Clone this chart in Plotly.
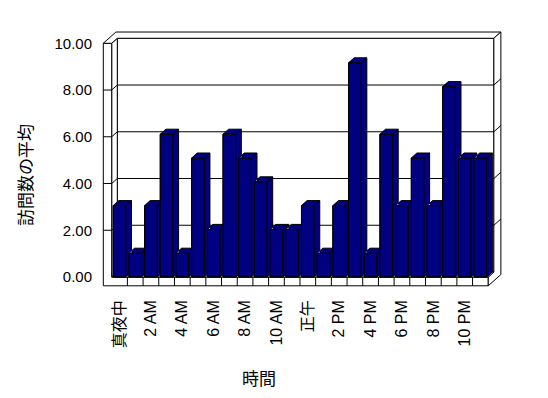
import plotly.graph_objects as go

# ---------------- data ----------------
HOURS = list(range(24))
AVG_VISITS = [3, 1, 3, 6, 1, 5, 2, 6, 5, 4, 2, 2, 3, 1, 3, 9, 1, 6, 3, 5, 3, 8, 5, 5]
TICK_HOURS = [0, 2, 4, 6, 8, 10, 12, 14, 16, 18, 20, 22]
TICK_LABELS = ["真夜中", "2 AM", "4 AM", "6 AM", "8 AM", "10 AM", "正午",
               "2 PM", "4 PM", "6 PM", "8 PM", "10 PM"]
Y_TICKS = [0, 2, 4, 6, 8, 10]
X_TITLE = "時間"
Y_TITLE = "訪問数の平均"

# ---------------- geometry (pixels -> data units) ----------------
OFF = 8                                 # default page body margin
W, H = 548 - OFF, 398 - OFF
L, R, T, B = 96 - OFF, 512 - OFF, 22 - OFF, 296 - OFF   # plot area in pixels
PX0, SX = 111.7 - OFF, 15.69            # px of category -0.5 ; px per category
PY0, SY = 277.0 - OFF, 23.8             # px of value 0 ; px per value
N = len(HOURS)

DX, DY = 5.6 / SX, 5.0 / SY             # depth vector (one depth unit)
LT = 8.4 / SX                           # left wall thickness
FT = 8.8 / SY                           # floor thickness
TB = 1.25                               # back wall thickness (depth units)
WALL_K = 0.982                          # wall value scale vs bar scale
WT = 10 * WALL_K                        # wall top
BW = 12.7 / SX                          # bar front width
X0, X1 = -0.5, N - 0.5

NAVY = "#000080"
FONT = "Liberation Sans, Arial, Noto Sans CJK JP, sans-serif"
CJK = "Noto Sans CJK JP, sans-serif"

xr0 = X0 + (L - PX0) / SX
xr1 = X0 + (R - PX0) / SX
yr0 = (PY0 - B) / SY
yr1 = (PY0 - T) / SY


def path(pts, close=True):
    s = "M " + " L ".join(f"{x},{y}" for x, y in pts)
    return s + (" Z" if close else "")


shapes = []


def poly_shape(pts, fill="white"):
    shapes.append(dict(type="path", path=path(pts), xref="x", yref="y",
                       fillcolor=fill, line=dict(color="black", width=1),
                       layer="below"))


def line_shape(p, q):
    shapes.append(dict(type="line", x0=p[0], y0=p[1], x1=q[0], y1=q[1],
                       xref="x", yref="y", line=dict(color="black", width=1),
                       layer="below"))


D2X, D2Y = (1 + TB) * DX, (1 + TB) * DY
# back wall inner face
poly_shape([(X0 + DX, DY), (X1 + DX, DY), (X1 + DX, WT + DY), (X0 + DX, WT + DY)])
# left wall inner face
poly_shape([(X0, 0), (X0 + DX, DY), (X0 + DX, WT + DY), (X0, WT)])
# left wall front face + floor front face
poly_shape([(X0 - LT, -FT), (X1, -FT), (X1, 0), (X0, 0), (X0, WT), (X0 - LT, WT)])
# top faces of the walls
poly_shape([(X0 - LT, WT), (X0, WT), (X0 + DX, WT + DY), (X1 + DX, WT + DY),
            (X1 + D2X, WT + D2Y), (X0 - LT + D2X, WT + D2Y)])
# right side faces (floor + back wall)
poly_shape([(X1, 0), (X1, -FT), (X1 + D2X, -FT + D2Y), (X1 + D2X, WT + D2Y),
            (X1 + DX, WT + DY), (X1 + DX, DY)])
# floor top face
poly_shape([(X0, 0), (X1, 0), (X1 + DX, DY), (X0 + DX, DY)])
# floor dividers
for k in range(1, N):
    line_shape((X0 + k, -FT), (X0 + k, 0))
# gridlines
for v in Y_TICKS[1:-1]:
    y = v * WALL_K
    line_shape((X0 - LT, y), (X0, y))
    line_shape((X0, y), (X0 + DX, y + DY))
    line_shape((X0 + DX, y + DY), (X1 + DX, y + DY))
    line_shape((X1 + DX, y + DY), (X1 + D2X, y + D2Y))


# ---------------- 3D bar faces ----------------
def silhouette(i, v):
    xl, xr = i - BW / 2, i + BW / 2
    return [(xl, 0), (xr, 0), (xr + DX, DY), (xr + DX, v + DY),
            (xl + DX, v + DY), (xl, v)]


def inside_interval(p0, p1, poly):
    area = 0
    for k in range(len(poly)):
        a, b = poly[k], poly[(k + 1) % len(poly)]
        area += a[0] * b[1] - b[0] * a[1]
    s = 1 if area > 0 else -1
    t0, t1 = 0.0, 1.0
    d = (p1[0] - p0[0], p1[1] - p0[1])
    eps = 1e-9
    for k in range(len(poly)):
        a, b = poly[k], poly[(k + 1) % len(poly)]
        e = (b[0] - a[0], b[1] - a[1])
        num = s * (e[0] * (p0[1] - a[1]) - e[1] * (p0[0] - a[0]))
        den = s * (e[0] * d[1] - e[1] * d[0])
        if abs(den) < 1e-12:
            if num <= eps:
                return None
            continue
        t = (eps - num) / den
        if den > 0:
            t0 = max(t0, t)
        else:
            t1 = min(t1, t)
    if t0 >= t1:
        return None
    return t0, t1


def visible_parts(p0, p1, occ):
    if occ is None:
        return [(p0, p1)]
    iv = inside_interval(p0, p1, occ)
    if iv is None:
        return [(p0, p1)]
    lerp = lambda t: (p0[0] + t * (p1[0] - p0[0]), p0[1] + t * (p1[1] - p0[1]))
    out = []
    if iv[0] > 1e-6:
        out.append((p0, lerp(iv[0])))
    if iv[1] < 1 - 1e-6:
        out.append((lerp(iv[1]), p1))
    return out


fx, fy = [], []      # side + top faces
ex, ey = [], []      # outlines
for i, v in zip(HOURS, AVG_VISITS):
    xl, xr = i - BW / 2, i + BW / 2
    top = [(xl, v), (xr, v), (xr + DX, v + DY), (xl + DX, v + DY)]
    side = [(xr, 0), (xr, v), (xr + DX, v + DY), (xr + DX, DY)]
    for face in (top, side):
        for x, y in face + [face[0]]:
            fx.append(x); fy.append(y)
        fx.append(None); fy.append(None)
    occ = silhouette(i + 1, AVG_VISITS[i + 1]) if i + 1 < N else None
    edges = [((xl, 0), (xr, 0)), ((xr, 0), (xr, v)), ((xr, v), (xl, v)),
             ((xl, v), (xl, 0)), ((xl, v), (xl + DX, v + DY)),
             ((xl + DX, v + DY), (xr + DX, v + DY)), ((xr + DX, v + DY), (xr, v)),
             ((xr + DX, v + DY), (xr + DX, DY)), ((xr + DX, DY), (xr, 0))]
    for p, q in edges:
        for a, b in visible_parts(p, q, occ):
            ex += [a[0], b[0], None]
            ey += [a[1], b[1], None]

fig = go.Figure()
fig.add_trace(go.Bar(x=HOURS, y=AVG_VISITS, width=BW, marker=dict(
    color=NAVY, line=dict(color="black", width=1)), hoverinfo="skip",
    showlegend=False))
fig.add_trace(go.Scatter(x=fx, y=fy, mode="lines", fill="toself",
                         fillcolor=NAVY, line=dict(width=0, color=NAVY),
                         hoverinfo="skip", showlegend=False))
fig.add_trace(go.Scatter(x=ex, y=ey, mode="lines",
                         line=dict(color="black", width=1),
                         hoverinfo="skip", showlegend=False))

fig.update_layout(
    width=W, height=H, autosize=False,
    margin=dict(l=L, r=W - R, t=T, b=H - B, pad=0),
    paper_bgcolor="white", plot_bgcolor="white",
    shapes=shapes, showlegend=False,
    font=dict(family=FONT, size=15, color="black"),
    xaxis=dict(range=[xr0, xr1], showgrid=False, zeroline=False, showline=False,
               tickmode="array", tickvals=TICK_HOURS, ticktext=TICK_LABELS,
               tickangle=-90, ticks="", tickfont=dict(size=16, family=FONT,
                                                      color="black")),
    yaxis=dict(range=[yr0, yr1], showgrid=False, zeroline=False, showline=False,
               tickmode="array", tickvals=[v * WALL_K for v in Y_TICKS],
               ticktext=[f"{v:.2f}" for v in Y_TICKS], ticks="",
               ticklabelstandoff=3,
               tickfont=dict(size=15, family=FONT, color="black")),
    annotations=[
        dict(text=Y_TITLE, xref="paper", yref="paper",
             x=(25 - OFF - L) / (R - L), y=(B - (175 - OFF)) / (B - T),
             xanchor="center", yanchor="middle", textangle=-90, showarrow=False,
             font=dict(family=CJK, size=17, color="black")),
        dict(text=X_TITLE, xref="paper", yref="paper",
             x=(258.5 - OFF - L) / (R - L), y=(B - (377 - OFF)) / (B - T),
             xanchor="center", yanchor="middle", showarrow=False,
             font=dict(family=CJK, size=17, color="black")),
    ],
)

fig.write_html("out.html", config={"displayModeBar": False, "staticPlot": True})
